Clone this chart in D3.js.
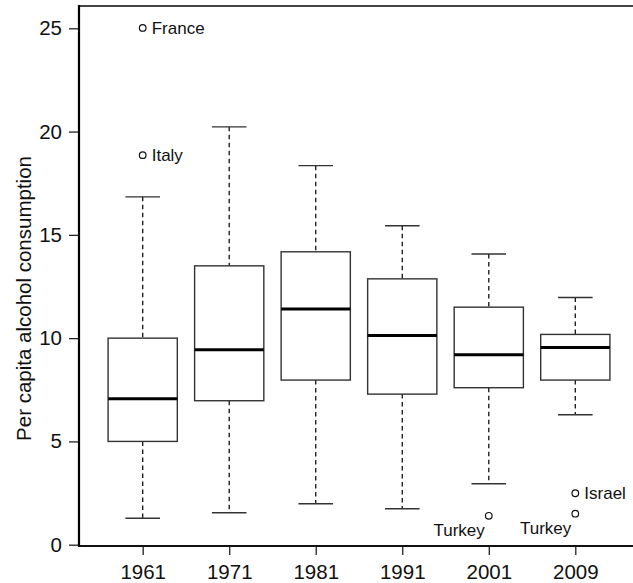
<!DOCTYPE html>
<html>
<head>
<meta charset="utf-8">
<script src="https://cdn.jsdelivr.net/npm/d3@7"></script>
<style>
  html, body { margin: 0; padding: 0; background: #fff; }
  svg { display: block; font-family: "Liberation Sans", Arial, Helvetica, sans-serif; }
</style>
</head>
<body>
<svg id="chart" width="633" height="583"></svg>
<script>
// Per capita alcohol consumption by year: five-number summaries per year
const years      = ["1961", "1971", "1981", "1991", "2001", "2009"];
const whiskerLow = [1.28, 1.55, 1.98, 1.74, 2.95, 6.29];
const q1         = [5.0, 6.97, 7.97, 7.29, 7.6, 7.97];
const median     = [7.07, 9.44, 11.41, 10.13, 9.2, 9.55];
const q3         = [10.0, 13.5, 14.18, 12.87, 11.5, 10.18];
const whiskerHigh= [16.84, 20.23, 18.35, 15.44, 14.07, 11.97];

// Labelled outliers
const outYear    = ["1961", "1961", "2001", "2009", "2009"];
const outValue   = [25.02, 18.86, 1.40, 2.49, 1.50];
const outCountry = ["France", "Italy", "Turkey", "Israel", "Turkey"];
const outSide    = ["right", "right", "below", "right", "below"];

const yTicks = [0, 5, 10, 15, 20, 25];

const svg = d3.select("#chart");
const frameLeft = 79, frameTop = 6, frameBottom = 546, frameRight = 640;

const x = d3.scalePoint().domain(years).range([142.7, 575.3]);
const y = d3.scaleLinear().domain([0, 25]).range([544.7, 28.3]);
const boxW = x.step() * 0.8;
const capW = boxW / 2;

// Frame: top rule
svg.append("line").attr("x1", frameLeft).attr("x2", frameRight)
  .attr("y1", frameTop).attr("y2", frameTop)
  .attr("stroke", "#444").attr("stroke-width", 2);

// Y axis
const yAxis = svg.append("g").attr("transform", `translate(${frameLeft},0)`)
  .call(d3.axisLeft(y).tickValues(yTicks).tickSize(10).tickPadding(7).tickSizeOuter(0));
yAxis.select(".domain").remove();
yAxis.append("line").attr("x1", 0).attr("x2", 0).attr("y1", frameTop - 1).attr("y2", frameBottom + 1)
  .attr("stroke", "#000").attr("stroke-width", 2.2);
yAxis.selectAll(".tick line").attr("stroke", "#222").attr("stroke-width", 1.3);
yAxis.selectAll(".tick text").attr("font-size", 20.5).attr("fill", "#111")
  .attr("font-family", "Liberation Sans, Arial, sans-serif");

// X axis
const xAxis = svg.append("g").attr("transform", `translate(0,${frameBottom})`)
  .call(d3.axisBottom(x).tickSize(9).tickPadding(9).tickSizeOuter(0));
xAxis.select(".domain").remove();
xAxis.append("line").attr("x1", frameLeft).attr("x2", frameRight).attr("y1", 0).attr("y2", 0)
  .attr("stroke", "#111").attr("stroke-width", 2);
xAxis.selectAll(".tick line").attr("stroke", "#222").attr("stroke-width", 1.3);
xAxis.selectAll(".tick text").attr("font-size", 20.5).attr("fill", "#111")
  .attr("font-family", "Liberation Sans, Arial, sans-serif");

// Y axis title
svg.append("text")
  .attr("transform", `translate(31,${(y(0) + y(25)) / 2 + 12}) rotate(-90)`)
  .attr("text-anchor", "middle")
  .attr("font-size", 20.5).attr("fill", "#111")
  .text("Per capita alcohol consumption");

// Boxes
const stats = years.map((yr, i) => ({
  yr, lo: whiskerLow[i], q1: q1[i], med: median[i], q3: q3[i], hi: whiskerHigh[i]
}));

const g = svg.append("g");
const box = g.selectAll("g.box").data(stats).join("g").attr("class", "box");

// dashed whiskers
box.append("line")
  .attr("x1", d => x(d.yr)).attr("x2", d => x(d.yr))
  .attr("y1", d => y(d.hi)).attr("y2", d => y(d.q3))
  .attr("stroke", "#111").attr("stroke-width", 1.3).attr("stroke-dasharray", "4.5,3.5");
box.append("line")
  .attr("x1", d => x(d.yr)).attr("x2", d => x(d.yr))
  .attr("y1", d => y(d.q1)).attr("y2", d => y(d.lo))
  .attr("stroke", "#111").attr("stroke-width", 1.3).attr("stroke-dasharray", "4.5,3.5");
// whisker caps
box.append("line")
  .attr("x1", d => x(d.yr) - capW / 2).attr("x2", d => x(d.yr) + capW / 2)
  .attr("y1", d => y(d.hi)).attr("y2", d => y(d.hi))
  .attr("stroke", "#333").attr("stroke-width", 1.4);
box.append("line")
  .attr("x1", d => x(d.yr) - capW / 2).attr("x2", d => x(d.yr) + capW / 2)
  .attr("y1", d => y(d.lo)).attr("y2", d => y(d.lo))
  .attr("stroke", "#333").attr("stroke-width", 1.4);
// box body
box.append("rect")
  .attr("x", d => x(d.yr) - boxW / 2).attr("width", boxW)
  .attr("y", d => y(d.q3)).attr("height", d => y(d.q1) - y(d.q3))
  .attr("fill", "#fff").attr("stroke", "#333").attr("stroke-width", 1.4);
// median
box.append("line")
  .attr("x1", d => x(d.yr) - boxW / 2).attr("x2", d => x(d.yr) + boxW / 2)
  .attr("y1", d => y(d.med)).attr("y2", d => y(d.med))
  .attr("stroke", "#000").attr("stroke-width", 3);

// Outliers with country labels
const outs = outYear.map((yr, i) => ({ yr, v: outValue[i], name: outCountry[i], side: outSide[i] }));
const og = svg.append("g").selectAll("g").data(outs).join("g");
og.append("circle")
  .attr("cx", d => x(d.yr)).attr("cy", d => y(d.v)).attr("r", 3.3)
  .attr("fill", "#fff").attr("stroke", "#111").attr("stroke-width", 1.2);
og.append("text")
  .attr("x", d => d.side === "right" ? x(d.yr) + 9 : x(d.yr) - 4)
  .attr("y", d => d.side === "right" ? y(d.v) + 6 : y(d.v) + 20)
  .attr("text-anchor", d => d.side === "right" ? "start" : "end")
  .attr("font-size", 17).attr("fill", "#111")
  .text(d => d.name);
</script>
</body>
</html>
